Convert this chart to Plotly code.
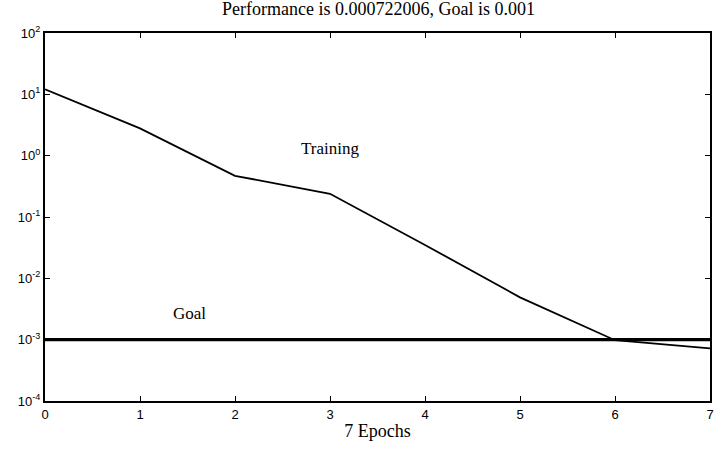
import plotly.graph_objects as go

epochs = [0, 1, 2, 3, 4, 5, 6, 7]
training_perf = [12.1, 2.79, 0.47, 0.239, 0.035, 0.0049, 0.00098, 0.000722006]
goal_value = 0.001
goal_x = [0, 7]
y_tick_vals = [1e-4, 1e-3, 1e-2, 1e-1, 1e0, 1e1, 1e2]
y_tick_text = ["10<sup>-4</sup>", "10<sup>-3</sup>", "10<sup>-2</sup>", "10<sup>-1</sup>",
               "10<sup>0</sup>", "10<sup>1</sup>", "10<sup>2</sup>"]
title_text = "Performance is 0.000722006, Goal is 0.001"
x_title = "7 Epochs"

fig = go.Figure()
fig.add_trace(go.Scatter(x=goal_x, y=[goal_value] * len(goal_x), mode="lines",
                         line=dict(color="black", width=3.2), showlegend=False, hoverinfo="skip"))
fig.add_trace(go.Scatter(x=epochs, y=training_perf, mode="lines",
                         line=dict(color="black", width=1.8), showlegend=False))

fig.add_annotation(x=3.0, y=0.124, xref="x", yref="y", text="Training", showarrow=False,
                   font=dict(family="Liberation Serif", size=17, color="black"))
fig.add_annotation(x=1.52, y=-2.57, xref="x", yref="y", text="Goal", showarrow=False,
                   font=dict(family="Liberation Serif", size=17, color="black"))

fig.update_layout(
    width=714, height=452,
    margin=dict(l=45, r=4, t=33, b=51),
    paper_bgcolor="white", plot_bgcolor="white",
    title=dict(text=title_text, x=0.53, xanchor="center", y=0.995, yanchor="top",
               font=dict(family="Liberation Serif", size=18, color="black")),
    xaxis=dict(range=[0, 7], tickmode="array", tickvals=epochs, ticks="inside", ticklen=5,
               tickcolor="black", tickwidth=1.3, showgrid=False, zeroline=False,
               showline=True, linecolor="black", linewidth=2, mirror="ticks", automargin=False,
               ticklabeloverflow="allow",
               tickfont=dict(family="Liberation Sans", size=13, color="black"),
               title=dict(text=x_title, standoff=4,
                          font=dict(family="Liberation Serif", size=18, color="black"))),
    yaxis=dict(type="log", range=[-4, 2], tickmode="array", tickvals=y_tick_vals,
               ticktext=y_tick_text, ticks="inside", automargin=False,
               ticklen=5, tickcolor="black", tickwidth=1.3, showgrid=False, zeroline=False,
               showline=True, linecolor="black", linewidth=2, mirror="ticks",
               tickfont=dict(family="Liberation Sans", size=13, color="black")),
)

fig.write_html("out.html", config={"displayModeBar": False},
               post_script="document.body.style.margin='0';document.body.style.overflow='hidden';"
                           "document.documentElement.style.overflow='hidden';")
